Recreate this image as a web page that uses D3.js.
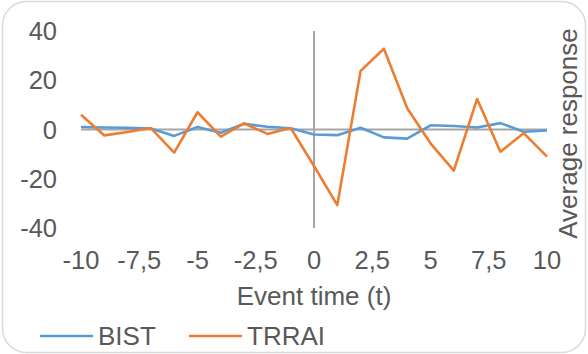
<!DOCTYPE html>
<html>
<head>
<meta charset="utf-8">
<script src="https://cdn.jsdelivr.net/npm/d3@7/dist/d3.min.js"></script>
<style>
  html, body { margin: 0; padding: 0; background: #fff; }
  svg { display: block; }
  text { font-family: "Liberation Sans", Arial, sans-serif; fill: #595959; }
</style>
</head>
<body>
<svg id="chart" width="588" height="354"></svg>
<script>
const eventTime = [-10,-9,-8,-7,-6,-5,-4,-3,-2,-1,0,1,2,3,4,5,6,7,8,9,10];
const bist  = [1.0,0.8,0.7,0.4,-2.6,1.0,-1.3,2.3,1.1,0.5,-2.0,-2.3,0.7,-3.2,-3.7,1.7,1.4,0.8,2.6,-0.9,-0.4];
const trrai = [6.0,-2.4,-1.0,0.6,-9.4,7.0,-2.9,2.5,-1.8,0.6,-14.8,-30.7,23.8,32.8,8.6,-5.6,-16.7,12.4,-9.0,-1.5,-11.0];
const xTicks = [-10,-7.5,-5,-2.5,0,2.5,5,7.5,10];
const yTicks = [-40,-20,0,20,40];
const seriesNames = ["BIST","TRRAI"];
const seriesColors = ["#5b9bd5","#ed7d31"];

const svg = d3.select("#chart");
const W = 588, H = 354;

svg.append("rect")
  .attr("x", 2.5).attr("y", 1.5).attr("width", W - 5).attr("height", H - 3)
  .attr("rx", 24).attr("ry", 24)
  .attr("fill", "#fff").attr("stroke", "#d9d9d9").attr("stroke-width", 1.5);

const x = d3.scaleLinear().domain([-10, 10]).range([81, 547]);
const y = d3.scaleLinear().domain([-40, 40]).range([228, 31]);

const fmt = d => String(d).replace(".", ",");

// y tick labels
svg.append("g").selectAll("text").data(yTicks).enter().append("text")
  .attr("x", 57).attr("y", d => y(d)).attr("dy", "0.36em")
  .attr("text-anchor", "end").attr("font-size", 25.5)
  .text(d => fmt(d));

// x tick labels
svg.append("g").selectAll("text").data(xTicks).enter().append("text")
  .attr("x", d => x(d)).attr("y", 269)
  .attr("text-anchor", "middle").attr("font-size", 25.5)
  .text(d => fmt(d));

// axis lines
svg.append("line")
  .attr("x1", x(-10)).attr("x2", x(10)).attr("y1", y(0)).attr("y2", y(0))
  .attr("stroke", "#a6a6a6").attr("stroke-width", 2);
svg.append("line")
  .attr("x1", x(0)).attr("x2", x(0)).attr("y1", y(40)).attr("y2", y(-40))
  .attr("stroke", "#a6a6a6").attr("stroke-width", 2);

const line = d3.line().x((d, i) => x(eventTime[i])).y(d => y(d));
[bist, trrai].forEach((s, k) => {
  svg.append("path").datum(s)
    .attr("d", line)
    .attr("fill", "none")
    .attr("stroke", seriesColors[k])
    .attr("stroke-width", 2.6)
    .attr("stroke-linejoin", "round");
});

// axis titles
svg.append("text")
  .attr("x", x(0)).attr("y", 305)
  .attr("text-anchor", "middle").attr("font-size", 26)
  .text("Event time (t)");
svg.append("text")
  .attr("transform", "translate(577,133.5) rotate(-90)")
  .attr("text-anchor", "middle").attr("font-size", 26)
  .text("Average response");

// legend
const legX = [40, 189];
seriesNames.forEach((n, k) => {
  svg.append("line")
    .attr("x1", legX[k]).attr("x2", legX[k] + 53)
    .attr("y1", 336).attr("y2", 336)
    .attr("stroke", seriesColors[k]).attr("stroke-width", 2.6);
  svg.append("text")
    .attr("x", legX[k] + 58).attr("y", 345)
    .attr("font-size", 26)
    .text(n);
});
</script>
</body>
</html>
